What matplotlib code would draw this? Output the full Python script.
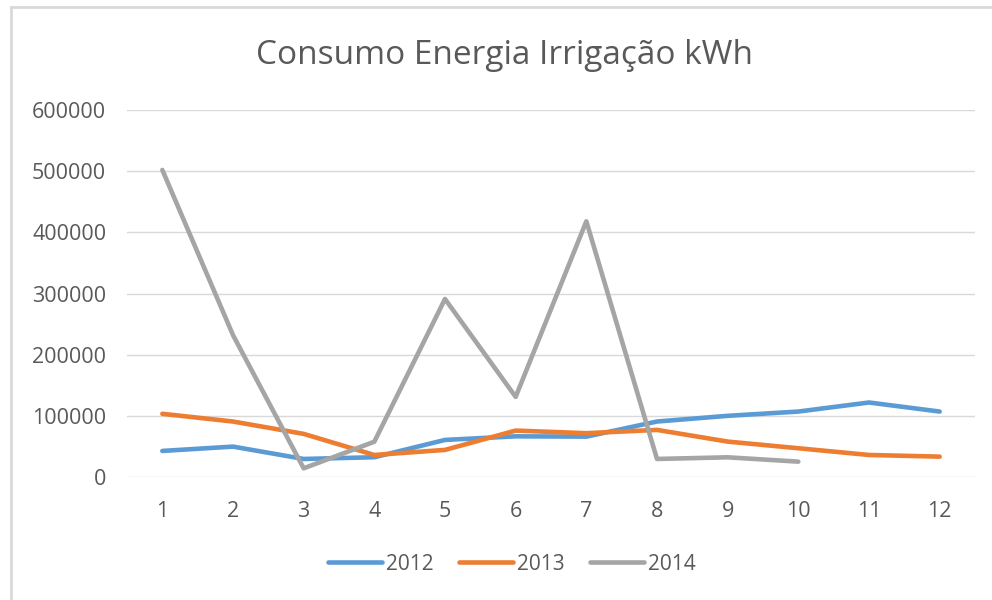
import matplotlib.pyplot as plt
from matplotlib.lines import Line2D

# dados (kWh por mes)
meses = list(range(1, 13))
consumo_2012 = [42600, 49700, 29500, 32300, 60600, 66500, 66000, 90700, 100000, 107000, 121800, 107000]
consumo_2013 = [103300, 90700, 70500, 36000, 44300, 75900, 71600, 77000, 57900, 47000, 36000, 33300]
meses_2014 = list(range(1, 11))
consumo_2014 = [502000, 232000, 14200, 57700, 291000, 131000, 418000, 29500, 32200, 25100]

anos = ['2012', '2013', '2014']
cores = ['#5B9BD5', '#ED7D31', '#A5A5A5']
yticks = [0, 100000, 200000, 300000, 400000, 500000, 600000]

plt.rcParams['font.family'] = ['Open Sans', 'DejaVu Sans']
txt = '#595959'

fig = plt.figure(figsize=(9.92, 6), dpi=100)

# moldura do grafico (so topo e esquerda aparecem)
fig.add_artist(Line2D([11/992, 11/992], [0, 1 - 7/600], transform=fig.transFigure, color='#D9D9D9', lw=2))
fig.add_artist(Line2D([11/992, 1], [1 - 7/600, 1 - 7/600], transform=fig.transFigure, color='#D9D9D9', lw=2))

ax = fig.add_axes([127/992, 1 - 477/600, (975 - 127)/992, (477 - 110)/600])

ax.plot(meses, consumo_2012, color=cores[0], lw=3.3, solid_joinstyle='round', solid_capstyle='round', label=anos[0])
ax.plot(meses, consumo_2013, color=cores[1], lw=3.3, solid_joinstyle='round', solid_capstyle='round', label=anos[1])
ax.plot(meses_2014, consumo_2014, color=cores[2], lw=3.3, solid_joinstyle='round', solid_capstyle='round', label=anos[2])

ax.set_xlim(0.5, 12.5)
ax.set_ylim(0, 600000)
ax.set_xticks(meses)
ax.set_xticklabels([str(m) for m in meses])
ax.set_yticks(yticks)
ax.set_yticklabels([str(v) for v in yticks])
ax.grid(axis='y', color='#D9D9D9', lw=1)
ax.set_axisbelow(True)
for s in ax.spines.values():
    s.set_visible(False)
ax.tick_params(length=0, labelsize=15.5, colors=txt)
ax.tick_params(axis='y', pad=15)
ax.tick_params(axis='x', pad=17)

fig.text(505/992, 1 - 56/600, 'Consumo Energia Irrigação kWh', ha='center', va='center', fontsize=24, color=txt)

leg = fig.legend(loc='center', bbox_to_anchor=(512/992, 1 - 564/600), ncol=3, frameon=False,
                 fontsize=15, handlelength=2.6, handletextpad=0.2, columnspacing=1.2)
for t in leg.get_texts():
    t.set_color(txt)

fig.savefig('out.png', dpi=100)
